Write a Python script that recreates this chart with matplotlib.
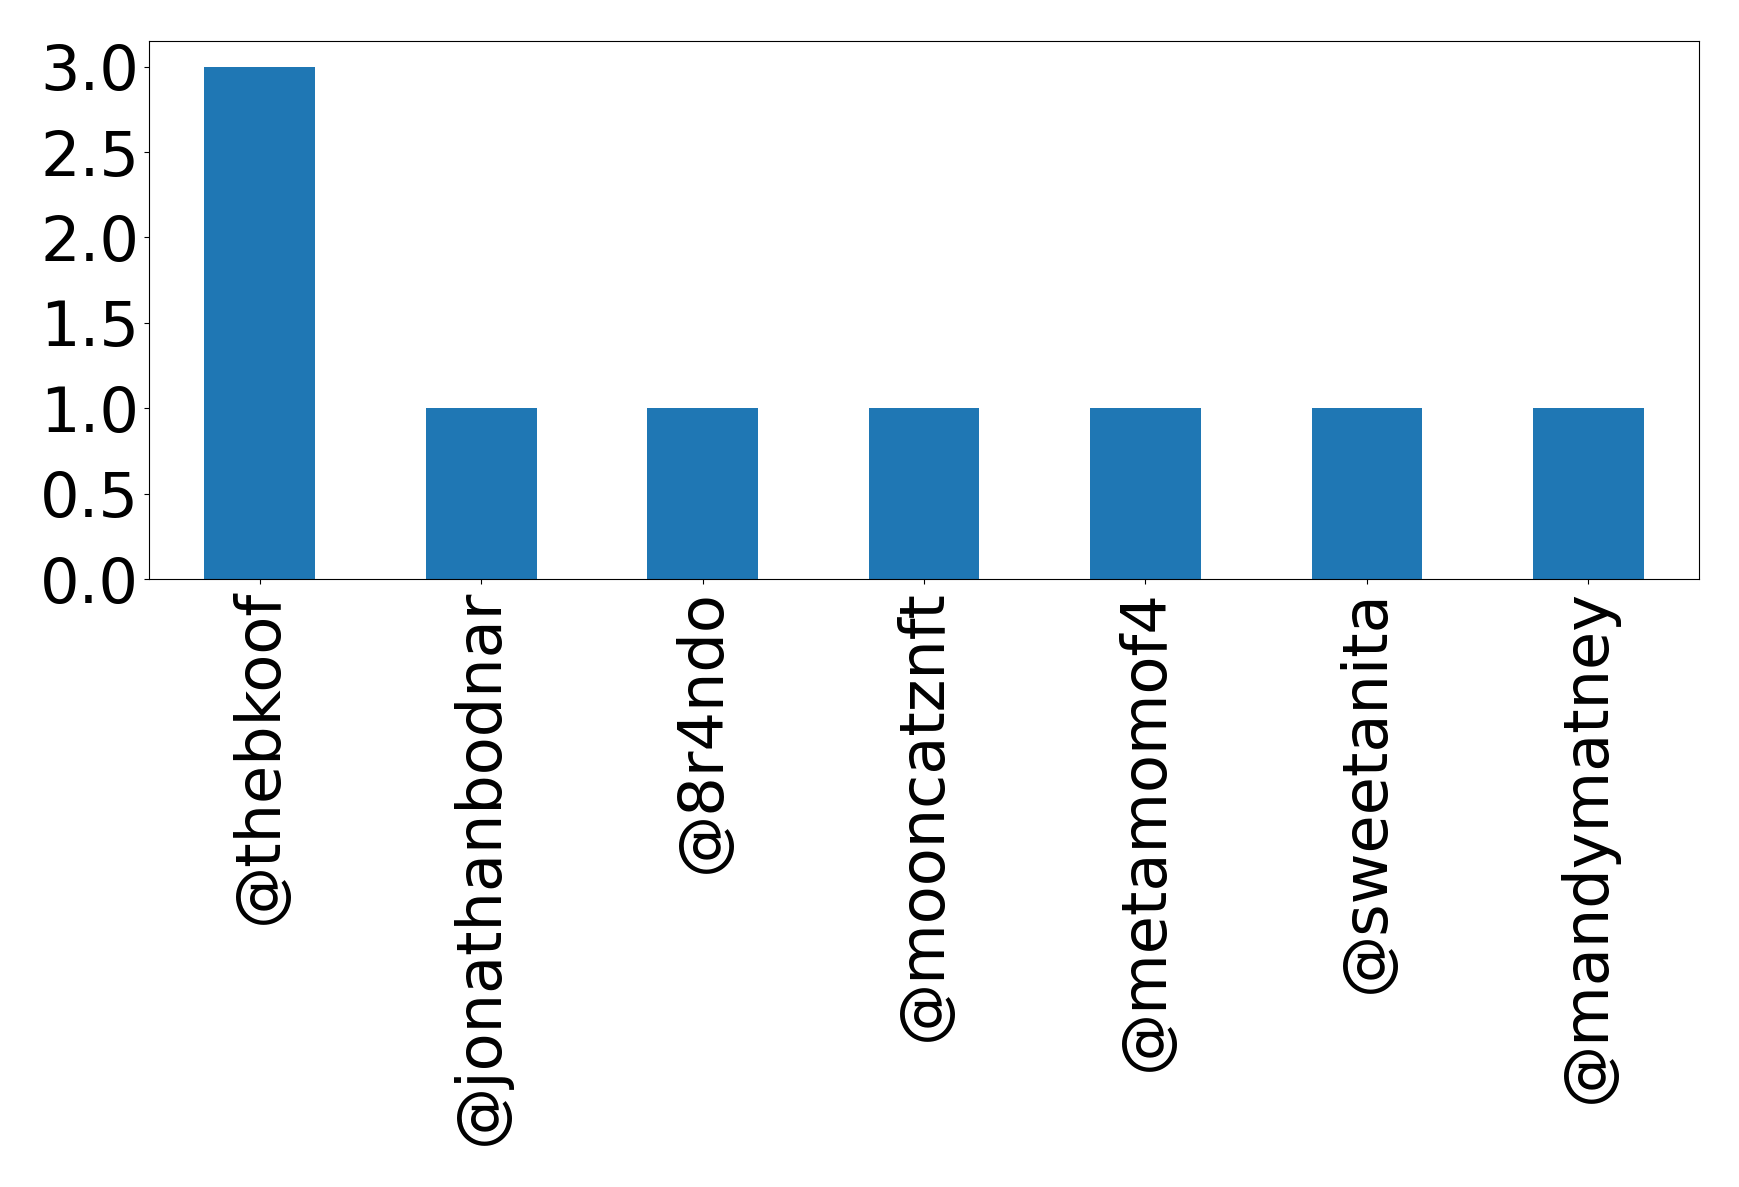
import matplotlib

matplotlib.use('Agg')
import matplotlib.pyplot as plt
import pandas as pd

# accounts and counts
accounts = ["@thebkoof", "@jonathanbodnar", "@8r4ndo", "@mooncatznft",
            "@metamomof4", "@sweetanita", "@mandymatney"]
counts = [3, 1, 1, 1, 1, 1, 1]

s = pd.Series(counts, index=accounts)

fig = plt.figure(figsize=(17.39, 11.87), dpi=100)
ax = fig.add_axes([0.0857, 0.512, 0.8913, 0.4535])
s.plot(kind='bar', ax=ax, color='#1f77b4', fontsize=44.8)
ax.set_yticks([0.0, 0.5, 1.0, 1.5, 2.0, 2.5, 3.0])

plt.savefig("out.png", dpi=100)
plt.close(fig)
